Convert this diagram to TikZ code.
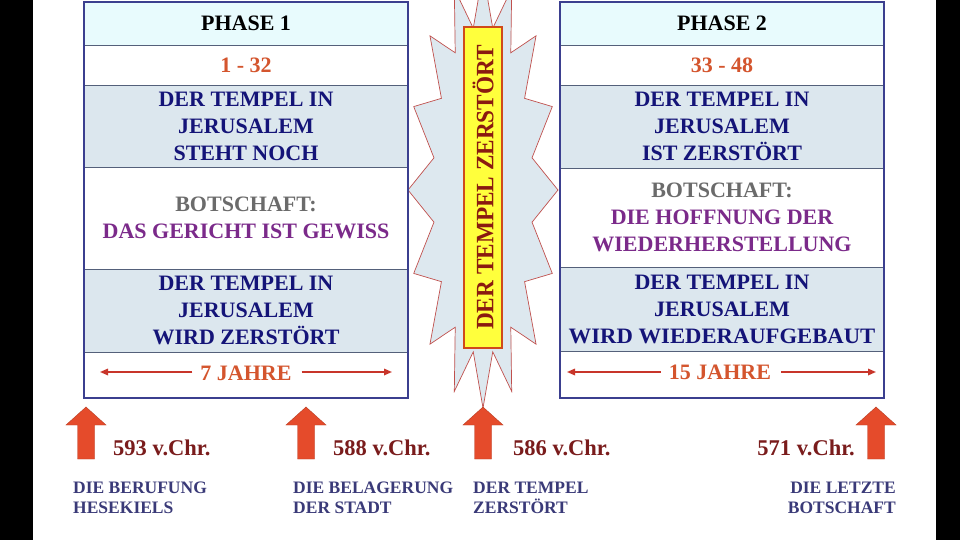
\documentclass[tikz,border=0pt]{standalone}
\usepackage{fontspec}
\setmainfont{Liberation Serif}
\usetikzlibrary{arrows.meta}
\definecolor{hdr}{HTML}{E8FBFD}
\definecolor{bluerow}{HTML}{DCE7EE}
\definecolor{boxborder}{HTML}{3B3F8F}
\definecolor{sepline}{HTML}{54607A}
\definecolor{navy}{HTML}{141478}
\definecolor{purp}{HTML}{7B2A8A}
\definecolor{graytxt}{HTML}{6B6B6B}
\definecolor{orangered}{HTML}{D4552E}
\definecolor{rowred}{HTML}{C8352A}
\definecolor{datered}{HTML}{7A1C1C}
\definecolor{labblue}{HTML}{3A3A78}
\definecolor{blockred}{HTML}{E54B2B}
\definecolor{starfill}{HTML}{DDE8EF}
\definecolor{starline}{HTML}{C0504D}
\definecolor{yel}{HTML}{FFFF3C}
\definecolor{yelborder}{HTML}{D04A1A}
\definecolor{rottxt}{HTML}{8A1A10}
\begin{document}
\begin{tikzpicture}[x=1pt,y=-1pt,
  row/.style={rectangle, minimum width=324pt, inner sep=0pt, draw=sepline, line width=0.8pt, align=center,
    font=\fontsize{22}{27}\selectfont\bfseries},
  border/.style={draw=boxborder, line width=2pt},
  rowarr/.style={draw=rowred, line width=1.6pt, -{Triangle[length=8pt,width=6.5pt]}},
  datetxt/.style={inner sep=0pt, anchor=west, text=datered, font=\fontsize{22.5}{25}\selectfont\bfseries},
  labtxt/.style={inner sep=0pt, text=labblue, font=\fontsize{17.5}{20}\selectfont\bfseries},
  uparrow/.pic={\fill[blockred, draw=blockred!80!black, line width=0.4pt] (0,0) -- (20,18) -- (8.5,18) -- (8.5,52) -- (-8.5,52) -- (-8.5,18) -- (-20,18) -- cycle;}
]
\useasboundingbox (0,0) rectangle (960,540);
\clip (0,0) rectangle (960,540);
\fill[white] (0,0) rectangle (960,540);
\fill[black] (0,0) rectangle (33,540);
\fill[black] (936,0) rectangle (960,540);

% starburst
\draw[fill=starfill, draw=starline, line width=0.7pt] ({483+75},190)
  \foreach \k in {1,...,31}{ -- ({483+ifthenelse(mod(\k,2)==0,75,50)*cos(\k*11.25)},{190+ifthenelse(mod(\k,2)==0,218,165)*sin(\k*11.25)}) } -- cycle;

% yellow bar
\node[rectangle, minimum width=38pt, minimum height=321pt, inner sep=0pt, fill=yel, draw=yelborder, line width=1.5pt] (yb) at (483,187.5) {};
\node[rotate=90, inner sep=0pt, text=rottxt, font=\fontsize{25}{25}\selectfont\bfseries] (ybt) at (yb.center) {\scalebox{0.93}[1]{DER TEMPEL ZERSTÖRT}};

% left box
\node[row, fill=hdr, minimum height=43pt] (a1) at (246,23.5) {PHASE 1};
\node[row, fill=white, minimum height=40pt, text=orangered] (a2) at (246,65) {1 - 32};
\node[row, fill=bluerow, minimum height=82pt, text=navy] (a3) at (246,126) {DER TEMPEL IN\\JERUSALEM\\STEHT NOCH};
\node[row, fill=white, minimum height=102pt] (a4) at (246,218) {\textcolor{graytxt}{BOTSCHAFT:}\\\textcolor{purp}{DAS GERICHT IST GEWISS}};
\node[row, fill=bluerow, minimum height=83pt, text=navy] (a5) at (246,310.5) {DER TEMPEL IN\\JERUSALEM\\WIRD ZERSTÖRT};
\node[row, fill=white, minimum height=46pt] (a6) at (246,375) {};
\draw[border] (a1.north west) rectangle (a6.south east);
\node[inner sep=0pt, text=orangered, font=\fontsize{22}{25}\selectfont\bfseries] (j1) at (246,373.5) {7 JAHRE};
\coordinate (j1l) at (100,372);
\coordinate (j1r) at (392,372);
\draw[rowarr] (j1.west) ++(-8,-1.5) -- (j1l);
\draw[rowarr] (j1.east) ++(10,-1.5) -- (j1r);

% right box
\node[row, fill=hdr, minimum height=43pt] (b1) at (722,23.5) {PHASE 2};
\node[row, fill=white, minimum height=40pt, text=orangered] (b2) at (722,65) {33 - 48};
\node[row, fill=bluerow, minimum height=83pt, text=navy] (b3) at (722,126.5) {DER TEMPEL IN\\JERUSALEM\\IST ZERSTÖRT};
\node[row, fill=white, minimum height=99pt] (b4) at (722,217.5) {\textcolor{graytxt}{BOTSCHAFT:}\\\textcolor{purp}{DIE HOFFNUNG DER}\\\textcolor{purp}{WIEDERHERSTELLUNG}};
\node[row, fill=bluerow, minimum height=84pt, text=navy] (b5) at (722,309) {DER TEMPEL IN\\JERUSALEM\\\scalebox{1.03}[1]{WIRD WIEDERAUFGEBAUT}};
\node[row, fill=white, minimum height=47pt] (b6) at (722,374.5) {};
\draw[border] (b1.north west) rectangle (b6.south east);
\node[inner sep=0pt, text=orangered, font=\fontsize{22}{25}\selectfont\bfseries] (j2) at (720,372) {15 JAHRE};
\coordinate (j2l) at (567,372);
\coordinate (j2r) at (876,372);
\draw[rowarr] (j2.west) ++(-8,0) -- (j2l);
\draw[rowarr] (j2.east) ++(10,0) -- (j2r);

% timeline arrows
\pic at (86,407) {uparrow};
\pic at (306,407) {uparrow};
\pic at (483,407) {uparrow};
\pic at (876,407) {uparrow};

% dates
\node[datetxt] (d1) at (113,448) {593 v.Chr.};
\node[datetxt] (d2) at (333,448) {588 v.Chr.};
\node[datetxt] (d3) at (513,448) {586 v.Chr.};
\node[datetxt, anchor=east] (d4) at (855,448) {571 v.Chr.};

% labels
\node[labtxt, anchor=north west, align=left] (l1) at (73,482) {DIE BERUFUNG\\HESEKIELS};
\node[labtxt, anchor=north west, align=left] (l2) at (293,482) {DIE BELAGERUNG\\DER STADT};
\node[labtxt, anchor=north west, align=left] (l3) at (473,482) {DER TEMPEL\\ZERSTÖRT};
\node[labtxt, anchor=north east, align=right] (l4) at (896,482) {DIE LETZTE\\BOTSCHAFT};
\end{tikzpicture}
\end{document}
